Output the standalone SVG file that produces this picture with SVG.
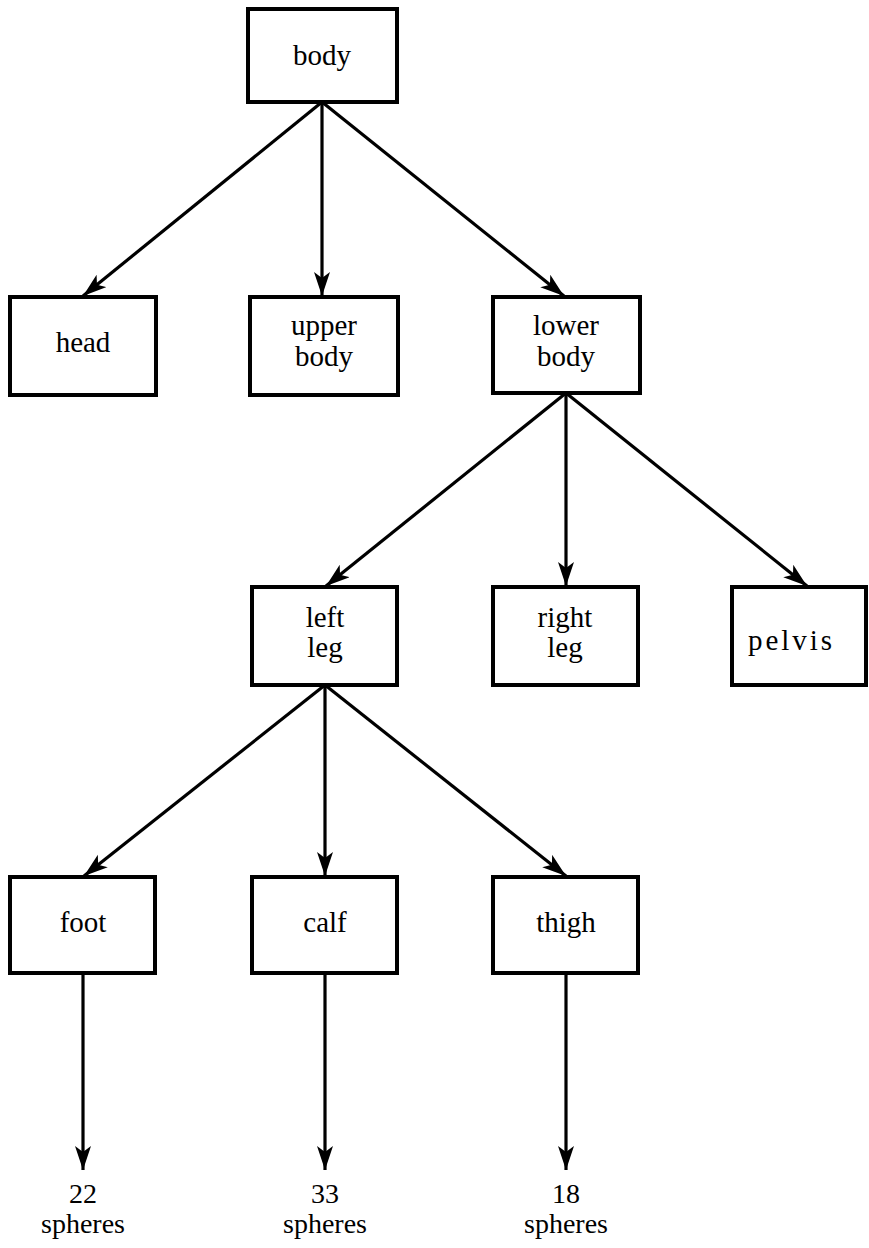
<svg xmlns="http://www.w3.org/2000/svg" width="869" height="1248" viewBox="0 0 869 1248">
<style>
.box{fill:#fff;stroke:#000;stroke-width:4}
.t{font-family:"Liberation Serif","Times New Roman","DejaVu Serif",serif;font-size:29px;fill:#000;text-anchor:middle}
.n{font-family:"Liberation Serif","Times New Roman","DejaVu Serif",serif;font-size:28px;fill:#000;text-anchor:middle}
.c{stroke:#000;stroke-width:3.2;fill:none;marker-end:url(#ah)}
</style>
<defs>
<marker id="ah" markerUnits="userSpaceOnUse" markerWidth="26" markerHeight="18" refX="24" refY="8" orient="auto">
<path d="M0,0 L24,8 L0,16 L6,8 Z" fill="#000"/>
</marker>
</defs>
<rect width="869" height="1248" fill="#fff"/>
<g id="connectors">
<line class="c" x1="322" y1="102" x2="83" y2="296"/>
<line class="c" x1="322" y1="102" x2="322" y2="296"/>
<line class="c" x1="322" y1="102" x2="564" y2="296"/>
<line class="c" x1="566" y1="393" x2="326" y2="586"/>
<line class="c" x1="566" y1="393" x2="566" y2="586"/>
<line class="c" x1="566" y1="393" x2="807" y2="586"/>
<line class="c" x1="325" y1="685" x2="84" y2="876"/>
<line class="c" x1="325" y1="685" x2="325" y2="876"/>
<line class="c" x1="325" y1="685" x2="566" y2="876"/>
<line class="c" x1="83" y1="973" x2="83" y2="1170"/>
<line class="c" x1="325" y1="973" x2="325" y2="1170"/>
<line class="c" x1="566" y1="973" x2="566" y2="1170"/>
</g>
<g id="body"><rect class="box" x="248" y="9" width="149" height="93"/><text class="t" x="322" y="65">body</text></g>
<g id="head"><rect class="box" x="10" y="297" width="146" height="98"/><text class="t" x="83" y="352">head</text></g>
<g id="upper-body"><rect class="box" x="250" y="297" width="148" height="98"/><text class="t" x="324" y="335">upper</text><text class="t" x="324" y="366">body</text></g>
<g id="lower-body"><rect class="box" x="493" y="297" width="147" height="96"/><text class="t" x="566" y="335">lower</text><text class="t" x="566" y="366">body</text></g>
<g id="left-leg"><rect class="box" x="252" y="587" width="145" height="98"/><text class="t" x="325" y="627">left</text><text class="t" x="325" y="657">leg</text></g>
<g id="right-leg"><rect class="box" x="493" y="587" width="145" height="98"/><text class="t" x="565" y="627">right</text><text class="t" x="565" y="657">leg</text></g>
<g id="pelvis"><rect class="box" x="732" y="587" width="134" height="98"/><text class="t" x="790" y="650" textLength="84">pelvis</text></g>
<g id="foot"><rect class="box" x="10" y="877" width="145" height="96"/><text class="t" x="83" y="932">foot</text></g>
<g id="calf"><rect class="box" x="252" y="877" width="145" height="96"/><text class="t" x="325" y="932">calf</text></g>
<g id="thigh"><rect class="box" x="493" y="877" width="145" height="96"/><text class="t" x="566" y="932">thigh</text></g>
<g id="foot-count"><text class="n" x="83" y="1203">22</text><text class="n" x="83" y="1233">spheres</text></g>
<g id="calf-count"><text class="n" x="325" y="1203">33</text><text class="n" x="325" y="1233">spheres</text></g>
<g id="thigh-count"><text class="n" x="566" y="1203">18</text><text class="n" x="566" y="1233">spheres</text></g>
</svg>
